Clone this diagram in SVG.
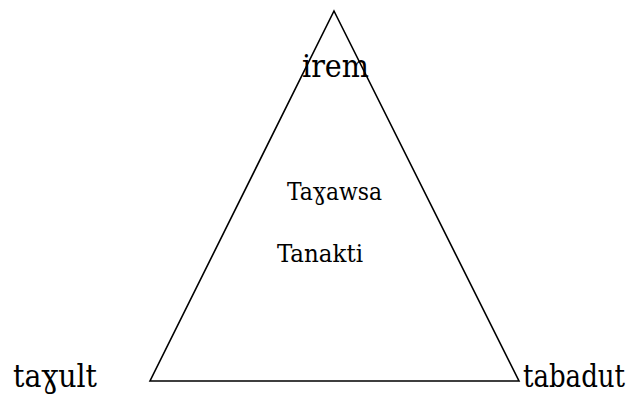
<svg xmlns="http://www.w3.org/2000/svg" width="631" height="397" viewBox="0 0 631 397">
<style>
text{font-family:'DejaVu Serif Condensed','DejaVu Serif',serif;font-stretch:condensed;fill:#000}
.big{font-size:32px}
.mid{font-size:24px}
.edge{fill:none;stroke:#000;stroke-width:1.6;stroke-linejoin:miter}
</style>
<rect width="631" height="397" fill="#fff"/>
<g id="connectors">
<polygon class="edge" points="334,11 519,381 150,381"/>
</g>
<g id="irem"><text class="big" x="302" y="77" textLength="67" lengthAdjust="spacingAndGlyphs">irem</text></g>
<g id="tayawsa"><text class="mid" x="287" y="200" textLength="95" lengthAdjust="spacingAndGlyphs">Taɣawsa</text></g>
<g id="tanakti"><text class="mid" x="277" y="262" textLength="86" lengthAdjust="spacingAndGlyphs">Tanakti</text></g>
<g id="tayult"><text class="big" x="13" y="387" textLength="84" lengthAdjust="spacingAndGlyphs">taɣult</text></g>
<g id="tabadut"><text class="big" x="523" y="387" textLength="102" lengthAdjust="spacingAndGlyphs">tabadut</text></g>
</svg>
